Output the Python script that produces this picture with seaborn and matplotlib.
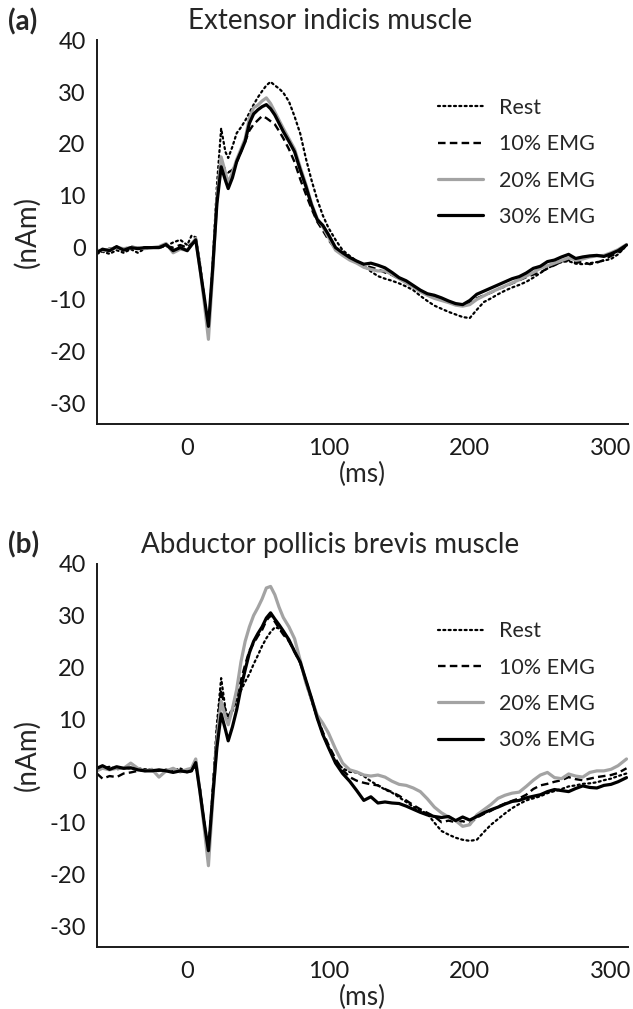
import numpy as np
import pandas as pd
import seaborn as sns
import matplotlib.pyplot as plt

# time base (ms)
t_ms = [-64, -60, -55, -50, -45, -40, -35, -30, -25, -20, -15, -10, -5, 0, 3, 6,
        9, 12, 15, 18, 21, 24, 27, 29, 32, 35, 38, 41, 44, 47, 50, 53, 56, 59,
        62, 65, 68, 72, 76, 80, 84, 88, 92, 96, 100, 105, 110, 115, 120, 125,
        130, 135, 140, 145, 150, 155, 160, 165, 170, 175, 180, 185, 190, 195,
        200, 205, 210, 215, 220, 225, 230, 235, 240, 245, 250, 255, 260, 265,
        270, 275, 280, 285, 290, 295, 300, 305, 311]

# (a) Extensor indicis muscle, nAm
a_rest = [-1.2, -0.8, -1.2, -0.5, -1.0, -0.3, -1.0, -0.2, 0.0, 0.0, 0.3, 1.0, 1.5, 0.5, 2.3, 2.0,
          -3.0, -9.5, -16.3, -3.0, 12.0, 23.0, 18.5, 17.3, 19.5, 22.1, 23.2, 24.5, 26.0, 27.6, 29.0, 30.2, 31.3, 32.0,
          31.3, 30.7, 29.9, 28.2, 25.3, 22.0, 17.2, 13.0, 9.3, 6.2, 3.8, 1.5, -0.5, -1.6, -2.6, -3.5,
          -4.6, -5.5, -6.0, -6.4, -6.9, -7.5, -8.2, -9.3, -10.3, -11.2, -11.8, -12.4, -12.9, -13.4,
          -13.6, -12.0, -10.5, -9.8, -9.0, -8.3, -7.7, -7.2, -6.6, -5.8, -4.9, -4.0, -3.3, -2.8,
          -2.6, -3.1, -3.2, -3.0, -2.8, -2.5, -2.2, -1.3, 0.4]
a_10 = [-0.8, -0.5, -0.2, 0.0, -0.3, 0.2, 0.0, 0.0, 0.0, 0.0, 0.3, 0.0, 0.5, 0.0, 0.8, 1.6,
        -3.5, -10.0, -16.0, -4.5, 9.0, 16.5, 15.0, 14.5, 15.0, 16.5, 18.5, 20.5, 22.6, 23.8, 24.6, 25.4, 25.0, 24.4,
        23.8, 22.5, 21.1, 19.0, 16.5, 13.2, 10.3, 7.5, 5.0, 3.3, 1.5, -0.3, -1.2, -2.0, -2.8, -3.4,
        -3.8, -4.2, -4.8, -5.3, -6.0, -6.7, -7.5, -8.3, -9.0, -9.6, -10.0, -10.5, -10.9, -11.2,
        -10.7, -9.8, -9.2, -8.7, -8.0, -7.5, -6.9, -6.3, -5.7, -5.2, -4.8, -4.0, -3.4, -2.7,
        -2.4, -2.9, -2.8, -3.2, -2.9, -2.4, -1.6, -1.0, 0.3]
a_20 = [-0.5, -0.6, -0.3, 0.0, -0.2, 0.0, 0.0, -0.2, 0.0, 0.2, 0.8, -1.0, -0.3, -0.5, 0.5, 1.8,
        -4.0, -10.5, -17.7, -5.0, 9.5, 17.5, 14.5, 12.5, 14.5, 17.0, 19.0, 21.0, 25.0, 27.0, 27.5, 28.3, 28.9, 27.8,
        26.2, 24.6, 23.0, 21.0, 19.0, 15.5, 12.2, 8.5, 5.6, 4.0, 2.0, -0.5, -1.5, -2.4, -3.0, -3.8,
        -4.2, -4.5, -4.5, -5.2, -6.0, -6.8, -7.6, -8.5, -9.2, -9.8, -10.2, -10.6, -11.1, -11.3,
        -11.0, -10.0, -9.3, -8.6, -8.0, -7.4, -6.8, -6.2, -5.5, -4.8, -4.0, -3.5, -3.0, -2.5,
        -2.0, -2.4, -2.2, -1.8, -1.6, -1.5, -1.0, -0.4, 0.6]
a_30 = [-1.0, -0.3, -0.6, 0.2, -0.5, 0.0, -0.2, 0.0, 0.0, 0.0, 0.6, -0.6, 0.0, -0.6, 0.5, 1.5,
        -4.0, -9.5, -15.2, -4.0, 8.5, 15.6, 13.0, 11.4, 13.5, 16.6, 18.5, 20.5, 24.0, 25.8, 26.6, 27.2, 27.6, 26.8,
        25.6, 24.0, 22.4, 20.5, 18.5, 15.0, 11.8, 8.2, 5.4, 4.3, 2.5, 0.0, -1.0, -1.9, -2.6, -3.2,
        -3.0, -3.4, -3.9, -4.8, -5.8, -6.4, -7.3, -8.2, -8.9, -9.2, -9.7, -10.3, -10.8, -11.0,
        -10.2, -9.0, -8.4, -7.8, -7.2, -6.6, -6.0, -5.6, -4.9, -4.0, -3.6, -2.7, -2.4, -1.8,
        -1.3, -2.1, -1.8, -1.6, -1.5, -1.7, -1.2, -0.6, 0.5]

# (b) Abductor pollicis brevis muscle, nAm
b_rest = [0.5, 0.5, 0.8, 0.3, 0.5, 0.5, 0.5, 0.3, 0.3, 0.0, 0.2, 0.0, 0.5, -0.3, 0.0, 1.0,
          -3.5, -10.0, -16.0, -4.0, 9.0, 17.9, 12.0, 9.9, 11.5, 13.8, 15.5, 17.2, 18.7, 20.6, 22.3, 24.1, 25.6, 26.8,
          27.7, 27.5, 26.6, 25.1, 23.2, 21.0, 17.0, 13.5, 10.2, 7.0, 4.5, 1.8, 0.5, -0.2, -0.3, -1.0,
          -2.0, -2.8, -3.6, -4.2, -5.1, -6.0, -6.9, -7.6, -8.3, -10.0, -11.6, -12.3, -12.9, -13.3,
          -13.5, -13.3, -11.8, -10.4, -9.3, -8.2, -7.2, -6.4, -5.7, -5.3, -4.9, -4.3, -3.9, -3.5,
          -3.0, -2.8, -2.5, -2.4, -2.2, -1.8, -1.5, -1.0, -0.5]
b_10 = [-0.5, -1.5, -1.0, -1.2, -0.5, -0.3, 0.0, 0.2, 0.0, 0.0, 0.2, 0.0, 0.0, 0.0, 0.3, 1.5,
        -3.5, -10.0, -16.0, -4.0, 8.0, 15.7, 11.5, 10.5, 12.0, 14.7, 17.5, 20.5, 23.2, 24.6, 26.0, 27.2, 29.0, 30.0,
        28.8, 27.5, 26.3, 25.0, 23.0, 20.8, 17.5, 14.0, 10.3, 7.5, 5.0, 2.3, 0.2, -1.2, -1.9, -2.3,
        -2.6, -2.8, -3.5, -4.1, -4.8, -5.7, -6.6, -7.4, -8.1, -8.8, -9.9, -9.6, -9.9, -9.7,
        -10.2, -9.0, -8.3, -7.7, -6.9, -6.3, -5.8, -5.3, -4.6, -3.5, -2.8, -2.5, -2.1, -1.8,
        -1.2, -1.6, -1.8, -1.5, -1.2, -1.0, -0.8, -0.4, 0.5]
b_20 = [0.0, 0.5, 0.2, 0.5, 0.5, 1.5, 0.5, 0.0, 0.3, -1.2, 0.0, 0.5, -0.2, 0.3, 0.5, 2.3,
        -4.0, -11.0, -18.3, -6.0, 6.0, 13.4, 10.5, 8.9, 12.0, 15.7, 21.0, 25.0, 27.8, 30.0, 31.5, 33.2, 35.3, 35.6,
        34.0, 31.6, 29.6, 27.8, 25.5, 21.3, 17.0, 13.8, 10.8, 9.2, 7.3, 4.2, 1.5, 0.2, -0.2, -0.8,
        -1.0, -0.8, -1.2, -2.0, -2.6, -2.8, -3.3, -4.0, -5.4, -7.0, -8.1, -8.9, -9.6, -10.7,
        -10.4, -8.5, -7.5, -6.5, -5.3, -4.7, -4.3, -4.1, -3.0, -1.8, -0.8, -0.3, -1.3, -1.5,
        -0.6, -1.0, -1.2, -0.3, 0.0, 0.0, 0.3, 1.0, 2.3]
b_30 = [0.5, 1.0, 0.3, 0.8, 0.5, 0.6, 0.2, 0.0, 0.0, 0.2, 0.0, -0.3, 0.0, -0.2, 0.0, 1.6,
        -4.0, -10.0, -15.4, -5.0, 4.5, 11.0, 8.0, 5.8, 8.5, 11.8, 16.0, 19.5, 22.8, 25.0, 26.5, 27.8, 29.5, 30.5,
        29.3, 28.2, 27.0, 25.3, 23.0, 21.0, 17.5, 14.0, 10.2, 7.0, 4.5, 1.5, -0.5, -2.0, -3.8, -5.7,
        -5.0, -6.2, -6.0, -6.2, -6.3, -6.8, -7.4, -8.0, -8.5, -8.8, -9.0, -8.8, -9.6, -8.9,
        -9.5, -8.8, -8.1, -7.5, -7.0, -6.4, -5.9, -5.7, -5.2, -4.9, -4.6, -4.0, -3.6, -3.8,
        -4.0, -3.4, -2.9, -3.2, -3.3, -2.8, -2.6, -2.1, -1.3]

conditions = ['Rest', '10% EMG', '20% EMG', '30% EMG']
panel_titles = ['Extensor indicis muscle', 'Abductor pollicis brevis muscle']
panel_tags = ['(a)', '(b)']
y_ticks = [-30, -20, -10, 0, 10, 20, 30, 40]
x_ticks = [0, 100, 200, 300]

styles = {
    'Rest':    dict(color='black', lw=1.6, dashes=(0.9, 1.5), dash_capstyle='round'),
    '10% EMG': dict(color='black', lw=1.7, dashes=(3.2, 1.8)),
    '20% EMG': dict(color='#a3a3a3', lw=2.3),
    '30% EMG': dict(color='black', lw=2.3),
}

sns.set_style('white')
plt.rcParams['font.family'] = ['Lato', 'DejaVu Sans']
plt.rcParams['axes.unicode_minus'] = False

fig = plt.figure(figsize=(6.33, 10.09), dpi=100)
ax_a = fig.add_axes([0.153, 0.580, 0.839, 0.380])
ax_b = fig.add_axes([0.153, 0.0614, 0.839, 0.380])

panels = [(ax_a, [a_rest, a_10, a_20, a_30]), (ax_b, [b_rest, b_10, b_20, b_30])]
for i, (ax, series) in enumerate(panels):
    for name, vals in zip(conditions, series):
        df = pd.DataFrame({'ms': t_ms, 'nAm': vals})
        st = dict(styles[name])
        dashes = st.pop('dashes', None)
        sns.lineplot(data=df, x='ms', y='nAm', ax=ax, label=name, **st)
        if dashes is not None:
            ax.lines[-1].set_dashes(dashes)
    ax.set_xlim(-64, 312)
    ax.set_ylim(-34, 40)
    ax.set_yticks(y_ticks)
    ax.set_xticks(x_ticks)
    ax.tick_params(axis='both', length=0, labelsize=17, colors='#1a1a1a')
    ax.tick_params(axis='y', pad=8)
    ax.tick_params(axis='x', pad=10)
    for side in ['top', 'right']:
        ax.spines[side].set_visible(False)
    for side in ['left', 'bottom']:
        ax.spines[side].set_color('#1a1a1a')
        ax.spines[side].set_linewidth(1.4)
    ax.set_xlabel('(ms)', fontsize=19, labelpad=2)
    ax.set_ylabel('(nAm)', fontsize=20, labelpad=6)
    ax.legend(loc='upper left', bbox_to_anchor=(0.642, 0.850), frameon=False,
              fontsize=15.5, handlelength=2.1, handletextpad=0.75,
              labelspacing=0.76, borderpad=0, borderaxespad=0)
    ax.set_title(panel_titles[i], fontsize=20, pad=8, x=0.44)

fig.text(0.012, 0.978, panel_tags[0], fontsize=20, fontweight='bold', ha='left', va='center')
fig.text(0.012, 0.460, panel_tags[1], fontsize=20, fontweight='bold', ha='left', va='center')

fig.savefig('out.png', dpi=100)
